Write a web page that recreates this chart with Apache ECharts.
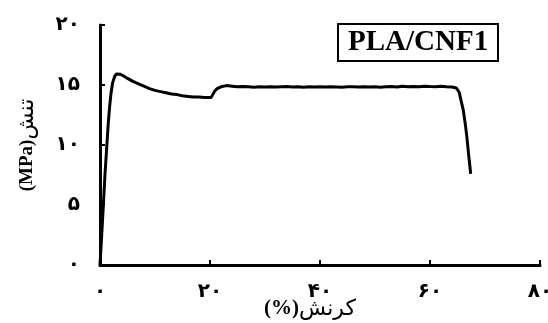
<!DOCTYPE html>
<html><head><meta charset="utf-8">
<script src="https://cdn.jsdelivr.net/npm/echarts@6/dist/echarts.min.js"></script>
<style>html,body{margin:0;padding:0;background:#fff}#c{width:548px;height:323px}</style>
</head><body><div id="c"></div>
<script>
const strain = [0,0.3,0.6,0.9,1.25,1.5,1.75,2.0,2.3,2.7,3.0,3.3,3.7,4.3,5,6,7,8,9,10,11,12,13,14,15,16,17,18,19,19.6,20.2,20.5,20.8,21.3,22,23,24,25,26,27,28,29,30,31,32,33,34,35,36,37,38,39,40,41,42,43,44,45,46,47,48,49,50,51,52,53,54,55,56,57,58,59,60,61,62,63,64,64.8,65.3,65.7,66.05,66.4,66.7,67.0,67.4];
const stress = [0,2.4,4.9,7.5,10,11.8,13.2,14.3,15.2,15.75,15.92,15.95,15.9,15.75,15.55,15.3,15.1,14.9,14.7,14.55,14.45,14.35,14.25,14.2,14.1,14.05,14.0,14.0,13.95,13.95,13.95,14.1,14.45,14.7,14.85,14.95,14.9,14.85,14.88,14.85,14.82,14.86,14.84,14.86,14.83,14.85,14.87,14.84,14.85,14.82,14.86,14.84,14.85,14.83,14.86,14.84,14.82,14.85,14.86,14.83,14.85,14.84,14.86,14.82,14.85,14.88,14.84,14.9,14.86,14.88,14.85,14.9,14.87,14.85,14.9,14.86,14.84,14.75,14.4,13.6,12.9,11.8,10.7,9.3,7.6];
const xTicks = ['۰','۲۰','۴۰','۶۰','۸۰'];
const yTicks = ['۰','۵','۱۰','۱۵','۲۰'];
const xTitleUnit = '(%)';
const xTitleWord = 'کرنش';
const yTitleUnit = '(MPa)';
const yTitleWord = 'تنش';
const boxLabel = 'PLA/CNF1';

const chart = echarts.init(document.getElementById('c'), null, {renderer:'canvas'});
const F = '"Liberation Serif","DejaVu Serif",serif';
const FA = '"DejaVu Sans",sans-serif';
chart.setOption({
  animation:false,
  title:{text:boxLabel,left:338,top:24,padding:[5,10,4,10],borderColor:'#000',borderWidth:2,
    textStyle:{fontFamily:F,fontWeight:'bold',fontSize:29,color:'#000',lineHeight:28}},
  grid:{left:100,right:8,top:25,bottom:58,containLabel:false,outerBoundsMode:'none'},
  xAxis:{type:'value',min:0,max:80,interval:20,
    name:'{u|'+xTitleUnit+'}{w|'+xTitleWord+'}',nameLocation:'middle',nameGap:33,nameMoveOverlap:false,
    nameTextStyle:{padding:[0,20,0,0],rich:{
      u:{fontFamily:F,fontWeight:'bold',fontSize:21,color:'#000'},
      w:{fontFamily:FA,fontSize:22,color:'#000'}}},
    axisLine:{lineStyle:{color:'#000',width:3}},
    axisTick:{inside:true,length:5,lineStyle:{color:'#000',width:2}},
    axisLabel:{margin:17,fontFamily:FA,fontWeight:'bold',fontSize:20,color:'#000',
      formatter:(v)=>xTicks[Math.round(v/20)]},
    splitLine:{show:false}},
  yAxis:{type:'value',min:0,max:20,interval:5,
    name:'{u|'+yTitleUnit+'}{w|'+yTitleWord+'}',nameLocation:'middle',nameGap:62,nameRotate:90,nameMoveOverlap:false,
    nameTextStyle:{rich:{
      u:{fontFamily:F,fontWeight:'bold',fontSize:19,color:'#000'},
      w:{fontFamily:FA,fontSize:22,color:'#000'}}},
    axisLine:{show:true,lineStyle:{color:'#000',width:3}},
    axisTick:{show:true,inside:true,length:5,lineStyle:{color:'#000',width:2}},
    axisLabel:{margin:20,fontFamily:FA,fontWeight:'bold',fontSize:20,color:'#000',
      formatter:(v)=>yTicks[Math.round(v/5)]},
    splitLine:{show:false}},
  series:[{type:'line',data:strain.map((s,i)=>[s,stress[i]]),showSymbol:false,smooth:false,
    lineStyle:{color:'#000',width:3},clip:false}]
});
</script></body></html>
